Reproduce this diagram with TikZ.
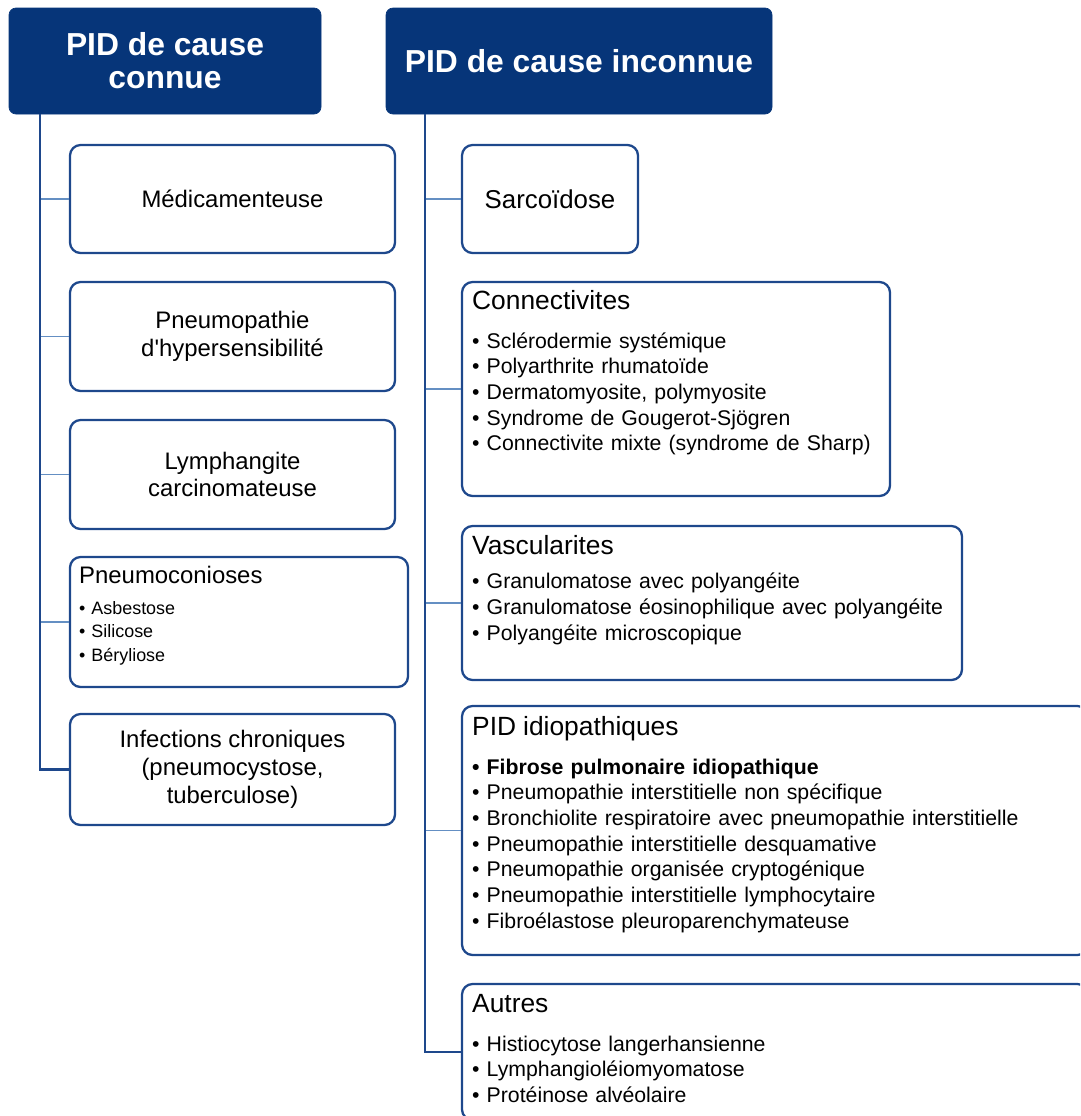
\documentclass[tikz,border=0pt]{standalone}
\usepackage{fontspec}
\setmainfont{Liberation Sans}[Ligatures=TeXOff]
\usepackage{tikz}
\usetikzlibrary{positioning, fit}

\definecolor{pidNavy}{RGB}{6, 53, 121}
\definecolor{pidBorder}{RGB}{30, 72, 140}
\definecolor{pidBranch}{RGB}{100, 143, 195}

\newcommand{\boxtitle}[1]{{\fontsize{15}{18}\selectfont #1}}

\begin{document}
\begin{tikzpicture}[
    x=0.02cm, y=-0.02cm,
    header/.style={rectangle, fill=pidNavy, draw=pidNavy, rounded corners=4pt, inner sep=0pt},
    headtext/.style={inner sep=0pt, align=center, text=white,
                     font=\fontsize{18.1}{18.8}\selectfont\bfseries},
    causebox/.style={rectangle, draw=pidBorder, line width=1.3pt, rounded corners=6pt, inner sep=0pt},
    boxtext/.style={inner sep=0pt, align=center, font=\fontsize{13.6}{15.8}\selectfont},
    listtext/.style={anchor=north west, inner sep=0pt, align=left, text width=12cm,
                     font=\fontsize{12.1}{14.6}\selectfont},
    trunk/.style={draw=pidBorder, line width=1.2pt},
    branch/.style={draw=pidBranch, line width=1.1pt},
  ]
    \useasboundingbox (0,0) rectangle (1080,1116);
    \clip (0,0) rectangle (1080,1116);

    % headers
    \node[header, fit={(9,8) (321,114)}] (hdrL) {};
    \node[headtext] (hdrLtxt) at (hdrL.center) {PID de cause\\connue};
    \node[header, fit={(386,8) (772,114)}] (hdrR) {};
    \node[headtext] (hdrRtxt) at (hdrR.center) {PID de cause inconnue};

    % cause connue
    \node[causebox, fit={(70,145) (395,253)}] (medic) {};
    \node[boxtext] (medictxt) at (medic.center) {Médicamenteuse};
    \node[causebox, fit={(70,282) (395,391)}] (hyper) {};
    \node[boxtext] (hypertxt) at (hyper.center) {Pneumopathie\\d'hypersensibilité};
    \node[causebox, fit={(70,420) (395,529)}] (lymph) {};
    \node[boxtext] (lymphtxt) at (lymph.center) {Lymphangite\\carcinomateuse};
    \node[causebox, fit={(70,557) (408,687)}] (pneumo) {};
    \node[listtext, font=\fontsize{10.2}{13.3}\selectfont] (pneumotxt) at ([shift={(10,10)}]pneumo.north west)
      {{\fontsize{13.6}{16}\selectfont Pneumoconioses}\\[4.3pt]
       • Asbestose\\
       • Silicose\\
       • Béryliose};
    \node[causebox, fit={(70,714) (395,825)}] (infect) {};
    \node[boxtext] (infecttxt) at (infect.center) {Infections chroniques\\(pneumocystose,\\tuberculose)};

    % cause inconnue
    \node[causebox, fit={(462,145) (638,253)}] (sarco) {};
    \node[boxtext, font=\fontsize{14.7}{17}\selectfont] (sarcotxt) at (sarco.center) {Sarcoïdose};
    \node[causebox, fit={(462,282) (890,496)}] (connect) {};
    \node[listtext] (connecttxt) at ([shift={(11,9)}]connect.north west)
      {\boxtitle{Connectivites}\\[7.5pt]
       • Sclérodermie systémique\\
       • Polyarthrite rhumatoïde\\
       • Dermatomyosite, polymyosite\\
       • Syndrome de Gougerot-Sjögren\\
       • Connectivite mixte (syndrome de Sharp)};
    \node[causebox, fit={(462,526) (962,680)}] (vascul) {};
    \node[listtext] (vascultxt) at ([shift={(11,10)}]vascul.north west)
      {\boxtitle{Vascularites}\\[5pt]
       • Granulomatose avec polyangéite\\
       • Granulomatose éosinophilique avec polyangéite\\
       • Polyangéite microscopique};
    \node[causebox, fit={(462,706) (1088,955)}] (idio) {};
    \node[listtext] (idiotxt) at ([shift={(11,11)}]idio.north west)
      {\boxtitle{PID idiopathiques}\\[7.5pt]
       \textbf{• Fibrose pulmonaire idiopathique}\\
       • Pneumopathie interstitielle non spécifique\\
       • Bronchiolite respiratoire avec pneumopathie interstitielle\\
       • Pneumopathie interstitielle desquamative\\
       • Pneumopathie organisée cryptogénique\\
       • Pneumopathie interstitielle lymphocytaire\\
       • Fibroélastose pleuroparenchymateuse};
    \node[causebox, fit={(462,984) (1088,1120)}] (autres) {};
    \node[listtext] (autrestxt) at ([shift={(11,11)}]autres.north west)
      {\boxtitle{Autres}\\[7.5pt]
       • Histiocytose langerhansienne\\
       • Lymphangioléiomyomatose\\
       • Protéinose alvéolaire};

    % connectors
    \path (hdrL.south west) ++(31,0) coordinate (trunkL);
    \path (hdrR.south west) ++(39,0) coordinate (trunkR);
    \foreach \b in {medic, hyper, lymph, pneumo}
      \draw[branch] (trunkL |- \b.west) -- (\b.west);
    \foreach \b in {sarco, connect, vascul, idio}
      \draw[branch] (trunkR |- \b.west) -- (\b.west);
    \draw[trunk] (trunkL) |- (infect.west);
    \draw[trunk] (trunkR) |- (autres.west);
  \end{tikzpicture}
\end{document}
